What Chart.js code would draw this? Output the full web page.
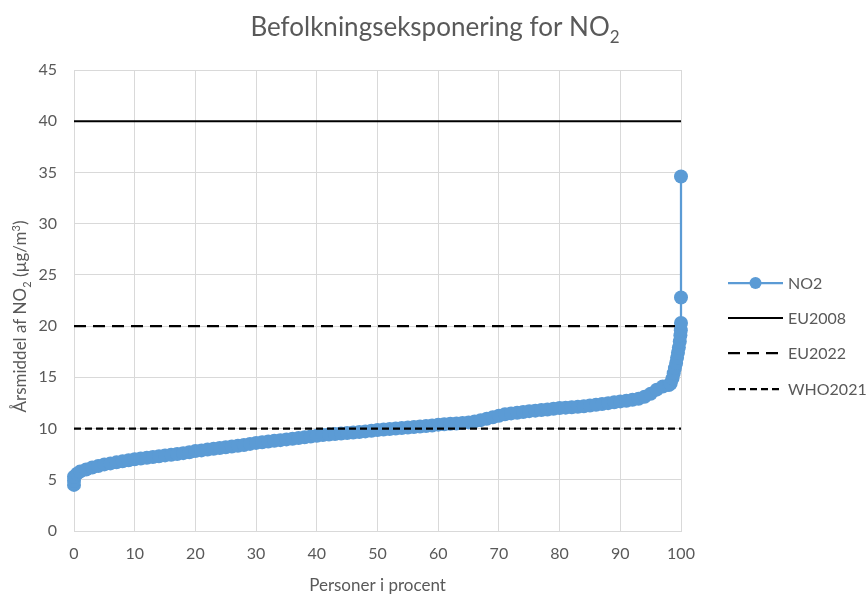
<!DOCTYPE html>
<html>
<head>
<meta charset="utf-8">
<script src="https://cdn.jsdelivr.net/npm/chart.js@4/dist/chart.umd.min.js"></script>
<style>
  html, body { margin: 0; padding: 0; background: #ffffff; }
  #wrap { width: 867px; height: 594px; position: relative; }
</style>
</head>
<body>
<div id="wrap"><canvas id="c" width="867" height="594"></canvas></div>
<script>
// ---- data ----
const chartTitle = "Befolkningseksponering for NO";
const xAxisTitle = "Personer i procent";
const seriesNames = ["NO2", "EU2008", "EU2022", "WHO2021"];

// NO2: share of population (%) sorted by annual mean exposure
const no2Percent = [0, 0, 0, 0.5, 1, 2, 3, 4, 5, 6, 7, 8, 9, 10,
  11, 12, 13, 14, 15, 16, 17, 18, 19, 20,
  21, 22, 23, 24, 25, 26, 27, 28, 29, 30,
  31, 32, 33, 34, 35, 36, 37, 38, 39, 40,
  41, 42, 43, 44, 45, 46, 47, 48, 49, 50,
  51, 52, 53, 54, 55, 56, 57, 58, 59, 60,
  61, 62, 63, 64, 65, 66, 67, 68, 69, 70,
  71, 72, 73, 74, 75, 76, 77, 78, 79, 80,
  81, 82, 83, 84, 85, 86, 87, 88, 89, 90,
  91, 92, 93, 94, 95, 96, 97, 98,
  98.3, 98.6, 98.8, 99.0, 99.2, 99.35, 99.5, 99.65, 99.8, 99.9, 99.97, 100, 100, 100];
const no2Values = [4.5, 4.9, 5.3, 5.6, 5.8, 6.0, 6.2, 6.35, 6.5, 6.6, 6.7, 6.8, 6.9, 7.0,
  7.08, 7.15, 7.22, 7.3, 7.38, 7.45, 7.52, 7.6, 7.68, 7.8,
  7.87, 7.95, 8.02, 8.1, 8.18, 8.25, 8.32, 8.4, 8.5, 8.6,
  8.67, 8.74, 8.8, 8.87, 8.94, 9.0, 9.07, 9.14, 9.22, 9.3,
  9.36, 9.42, 9.47, 9.52, 9.57, 9.62, 9.67, 9.72, 9.78, 9.85,
  9.9, 9.95, 10.0, 10.05, 10.1, 10.15, 10.2, 10.25, 10.3, 10.38,
  10.42, 10.46, 10.5, 10.55, 10.6, 10.7, 10.82, 10.95, 11.1, 11.25,
  11.4, 11.48, 11.55, 11.62, 11.7, 11.75, 11.8, 11.86, 11.93, 12.0,
  12.04, 12.08, 12.12, 12.18, 12.25, 12.32, 12.4, 12.48, 12.56, 12.65,
  12.72, 12.8, 12.9, 13.1, 13.4, 13.8, 14.1, 14.25,
  14.4, 14.9, 15.4, 15.9, 16.4, 16.9, 17.4, 17.9, 18.5, 19.1, 19.6, 20.3, 22.8, 34.6];

// limit values (µg/m³), drawn across 0..100 %
const limitRange = [0, 100];
const eu2008 = [40, 40];
const eu2022 = [20, 20];
const who2021 = [10, 10];

// axis ticks
const xTicks = [0, 10, 20, 30, 40, 50, 60, 70, 80, 90, 100];
const yTicks = [0, 5, 10, 15, 20, 25, 30, 35, 40, 45];

// ---- styling ----
const FONT = "Lato, 'Open Sans', sans-serif";
const TEXT = "#595959";
const BLUE = "#5B9BD5";
const GRID = "#D9D9D9";

const pts = (xs, ys) => xs.map((x, i) => ({ x: x, y: ys[i] }));

const datasets = [
  { label: seriesNames[0], data: pts(no2Percent, no2Values), borderColor: BLUE, backgroundColor: BLUE,
    borderWidth: 2.25, pointRadius: 7, pointHoverRadius: 7, pointBorderWidth: 0, showLine: true, order: 2, clip: false },
  { label: seriesNames[1], data: pts(limitRange, eu2008), borderColor: "#000000", borderWidth: 2,
    pointRadius: 0, showLine: true, order: 1, borderDash: [] },
  { label: seriesNames[2], data: pts(limitRange, eu2022), borderColor: "#000000", borderWidth: 2.25,
    pointRadius: 0, showLine: true, order: 1, borderDash: [12, 7] },
  { label: seriesNames[3], data: pts(limitRange, who2021), borderColor: "#000000", borderWidth: 2.25,
    pointRadius: 0, showLine: true, order: 1, borderDash: [7, 4] }
];

// text helpers with sub/superscripts: parts = [[text, 'n'|'sub'|'sup'], ...]
function partFont(size, kind) { return (kind === 'n' ? size : Math.round(size * 0.65)) + "px " + FONT; }
function measureParts(ctx, parts, size) {
  let w = 0;
  parts.forEach(p => { ctx.font = partFont(size, p[1]); w += ctx.measureText(p[0]).width; });
  return w;
}
function drawParts(ctx, parts, size, x, y) {
  let cx = x;
  parts.forEach(p => {
    ctx.font = partFont(size, p[1]);
    const dy = p[1] === 'sub' ? size * 0.28 : (p[1] === 'sup' ? -size * 0.38 : 0);
    ctx.fillText(p[0], cx, y + dy);
    cx += ctx.measureText(p[0]).width;
  });
}

const decor = {
  id: 'decor',
  afterDraw(chart) {
    const ctx = chart.ctx;
    const area = chart.chartArea;
    ctx.save();
    ctx.fillStyle = TEXT;
    ctx.textBaseline = 'alphabetic';
    ctx.textAlign = 'left';

    // title
    const tParts = [[chartTitle, 'n'], ["2", 'sub']];
    const tSize = 26;
    const tw = measureParts(ctx, tParts, tSize);
    drawParts(ctx, tParts, tSize, 435 - tw / 2, 36);

    // y title (rotated)
    const yParts = [["Årsmiddel af NO", 'n'], ["2", 'sub'], [" (µg/m", 'n'], ["3", 'sup'], [")", 'n']];
    const ySize = 17;
    const yw = measureParts(ctx, yParts, ySize);
    ctx.save();
    ctx.translate(26, (area.top + area.bottom) / 2 + 16);
    ctx.rotate(-Math.PI / 2);
    drawParts(ctx, yParts, ySize, -yw / 2, 0);
    ctx.restore();

    // x title
    ctx.font = "17px " + FONT;
    ctx.textAlign = 'center';
    ctx.fillText(xAxisTitle, (area.left + area.right) / 2, 591);

    // legend
    const rows = [283, 318, 353, 389];
    const lx0 = 728, lx1 = 783, tx = 788;
    chart.data.datasets.forEach((ds, i) => {
      const y = rows[i];
      ctx.save();
      ctx.strokeStyle = ds.borderColor;
      ctx.lineWidth = ds.borderWidth;
      ctx.setLineDash(ds.borderDash || []);
      ctx.beginPath();
      ctx.moveTo(lx0, y);
      ctx.lineTo(lx1, y);
      ctx.stroke();
      if (ds.pointRadius > 0) {
        ctx.fillStyle = ds.backgroundColor;
        ctx.beginPath();
        ctx.arc((lx0 + lx1) / 2, y, 6, 0, Math.PI * 2);
        ctx.fill();
      }
      ctx.restore();
      ctx.font = "16px " + FONT;
      ctx.textAlign = 'left';
      ctx.textBaseline = 'middle';
      ctx.fillStyle = TEXT;
      ctx.fillText(ds.label, tx, y + 1);
    });
    ctx.restore();
  }
};

new Chart(document.getElementById('c'), {
  type: 'scatter',
  data: { datasets: datasets },
  options: {
    responsive: false,
    animation: false,
    devicePixelRatio: 1,
    layout: { padding: { top: 70, right: 186, bottom: 0, left: 0 } },
    plugins: { legend: { display: false }, tooltip: { enabled: false }, title: { display: false } },
    scales: {
      x: {
        type: 'linear', min: 0, max: 100,
        afterBuildTicks: s => { s.ticks = xTicks.map(v => ({ value: v })); },
        afterFit: s => { s.height = 63; },
        grid: { color: GRID, lineWidth: 1, drawTicks: false },
        border: { color: GRID, width: 1 },
        ticks: { color: TEXT, font: { family: FONT, size: 16 }, padding: 13, maxRotation: 0 }
      },
      y: {
        type: 'linear', min: 0, max: 45,
        afterBuildTicks: s => { s.ticks = yTicks.map(v => ({ value: v })); },
        afterFit: s => { s.width = 74; },
        grid: { color: GRID, lineWidth: 1, drawTicks: false },
        border: { color: GRID, width: 1 },
        ticks: { color: TEXT, font: { family: FONT, size: 16 }, padding: 17 }
      }
    }
  },
  plugins: [decor]
});
</script>
</body>
</html>
